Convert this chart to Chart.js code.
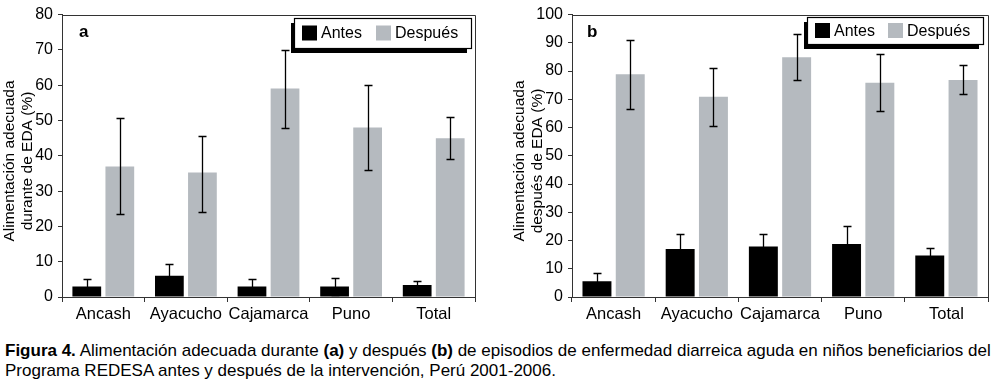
<!DOCTYPE html>
<html>
<head>
<meta charset="utf-8">
<script src="https://cdn.jsdelivr.net/npm/chart.js@4"></script>
<style>
  html, body { margin: 0; padding: 0; background: #fff; }
  body { width: 1000px; height: 381px; position: relative; overflow: hidden; font-family: "Liberation Sans", Arial, sans-serif; }
  #wrapA { position: absolute; left: 0; top: 0; width: 490px; height: 330px; }
  #wrapB { position: absolute; left: 500px; top: 0; width: 500px; height: 330px; }
  #caption { position: absolute; left: 5px; top: 341px; width: 995px; font-size: 17px; line-height: 20px; color: #000; white-space: nowrap; }
</style>
</head>
<body>
<div id="wrapA"><canvas id="chartA" width="490" height="330"></canvas></div>
<div id="wrapB"><canvas id="chartB" width="500" height="330"></canvas></div>
<div id="caption"><b>Figura 4.</b> Alimentación adecuada durante <b>(a)</b> y después <b>(b)</b> de episodios de enfermedad diarreica aguda en niños beneficiarios del<br>Programa REDESA antes y después de la intervención, Perú 2001-2006.</div>
<script>
const categories = ["Ancash", "Ayacucho", "Cajamarca", "Puno", "Total"]

// panel a: durante EDA
const antesA = [3.0, 6.0, 3.0, 3.0, 3.4]
const antesAHi = [5.1, 9.4, 5.1, 5.5, 4.4]
const antesALo = [0.9, 2.6, 0.9, 0.5, 2.4]
const despuesA = [37.0, 35.3, 59.1, 48.0, 45.0]
const despuesAHi = [50.8, 45.7, 70.1, 60.1, 51.1]
const despuesALo = [23.5, 24.2, 47.9, 36.1, 39.0]

// panel b: después de EDA
const antesB = [5.6, 17.0, 17.9, 18.8, 14.7]
const antesBHi = [8.4, 22.3, 22.3, 25.1, 17.2]
const antesBLo = [2.8, 11.7, 13.5, 12.5, 12.2]
const despuesB = [78.9, 70.9, 84.9, 75.9, 76.8]
const despuesBHi = [90.9, 81.2, 93.2, 86.0, 82.2]
const despuesBLo = [66.7, 60.6, 77.0, 65.8, 71.8]

const FONT = "'Liberation Sans', Arial, sans-serif"
const BLACK = "#000000"
const GRAY = "#b5babf"
const AXIS = "#333333"

// error bars, drawn from each dataset's errHi / errLo arrays
const errorBars = {
  id: "errorBars",
  afterDatasetsDraw(chart) {
    const ctx = chart.ctx
    const y = chart.scales.y
    ctx.save()
    ctx.strokeStyle = "#000"
    ctx.lineWidth = 1.3
    chart.data.datasets.forEach((ds, di) => {
      const meta = chart.getDatasetMeta(di)
      meta.data.forEach((bar, i) => {
        const yHi = Math.round(y.getPixelForValue(ds.errHi[i])) + 0.5
        const yLo = Math.round(y.getPixelForValue(ds.errLo[i])) + 0.5
        const x = Math.round(bar.x) + 0.5
        ctx.beginPath()
        ctx.moveTo(x, yHi); ctx.lineTo(x, yLo)
        ctx.moveTo(x - 4, yHi); ctx.lineTo(x + 4, yHi)
        ctx.moveTo(x - 4, yLo); ctx.lineTo(x + 4, yLo)
        ctx.stroke()
      })
    })
    ctx.restore()
  }
}

// top/right frame, y title, panel letter and boxed legend with shadow
const frame = {
  id: "frame",
  afterDraw(chart, args, opts) {
    const ctx = chart.ctx
    const a = chart.chartArea
    ctx.save()
    ctx.strokeStyle = AXIS
    ctx.lineWidth = 1
    ctx.beginPath()
    ctx.moveTo(Math.round(a.left) + 0.5, Math.round(a.top) + 0.5)
    ctx.lineTo(Math.round(a.right) + 0.5, Math.round(a.top) + 0.5)
    ctx.lineTo(Math.round(a.right) + 0.5, Math.round(a.bottom) + 0.5)
    ctx.stroke()

    // two-line rotated y-axis title
    ctx.fillStyle = "#000"
    ctx.font = "15.5px " + FONT
    ctx.textAlign = "center"
    ctx.textBaseline = "middle"
    opts.title.forEach((line, i) => {
      ctx.save()
      ctx.translate(opts.titleX[i], 161)
      ctx.rotate(-Math.PI / 2)
      ctx.fillText(line, 0, 0)
      ctx.restore()
    })

    ctx.font = "bold 17px " + FONT
    ctx.textAlign = "left"
    ctx.fillText(opts.letter, opts.letterX, opts.letterY)

    const lg = opts.legend
    ctx.fillStyle = "#000"
    ctx.fillRect(lg.x - 3, lg.y + 5, lg.w - 1, lg.h)
    ctx.fillStyle = "#fff"
    ctx.fillRect(lg.x, lg.y, lg.w, lg.h)
    ctx.strokeStyle = "#000"
    ctx.lineWidth = 1.2
    ctx.strokeRect(lg.x + 0.5, lg.y + 0.5, lg.w, lg.h)
    ctx.font = "16px " + FONT
    let x = lg.x + 8
    const cy = lg.y + lg.h / 2
    chart.data.datasets.forEach((ds, i) => {
      ctx.fillStyle = ds.backgroundColor
      ctx.fillRect(x, cy - 7.5, 15, 15)
      ctx.fillStyle = "#000"
      ctx.fillText(ds.label, x + 19, cy + 1)
      x += lg.step[i]
    })
    ctx.restore()
  }
}

function makeChart(id, antes, antesHi, antesLo, despues, despuesHi, despuesLo, yMax, yWidth, yTitle, titleX, pad, letter, legend) {
  return new Chart(document.getElementById(id), {
    type: "bar",
    data: {
      labels: categories,
      datasets: [
        { label: "Antes", data: antes, errHi: antesHi, errLo: antesLo, backgroundColor: BLACK,
          barPercentage: 0.87, categoryPercentage: 0.8 },
        { label: "Después", data: despues, errHi: despuesHi, errLo: despuesLo, backgroundColor: GRAY,
          barPercentage: 0.87, categoryPercentage: 0.8 }
      ]
    },
    options: {
      responsive: false,
      animation: false,
      layout: { padding: pad },
      plugins: {
        legend: { display: false },
        tooltip: { enabled: false },
        frame: { title: yTitle, titleX, letter: letter.t, letterX: letter.x, letterY: letter.y, legend }
      },
      scales: {
        x: {
          grid: { display: true, drawOnChartArea: false, offset: true, tickLength: 5, color: AXIS },
          border: { color: AXIS, width: 1 },
          ticks: { color: "#000", font: { family: FONT, size: 16.5 }, padding: 3, maxRotation: 0, autoSkip: false },
          afterFit(scale) { scale.height = 33 }
        },
        y: {
          min: 0, max: yMax,
          grid: { display: true, drawOnChartArea: false, tickLength: 4, color: AXIS },
          border: { color: AXIS, width: 1 },
          ticks: { stepSize: 10, color: "#000", font: { family: FONT, size: 16 }, padding: 5 },
          afterFit(scale) { scale.width = yWidth }
        }
      }
    },
    plugins: [errorBars, frame]
  })
}

makeChart("chartA", antesA, antesAHi, antesALo, despuesA, despuesAHi, despuesALo, 80, 62,
  ["Alimentación adecuada", "durante de EDA (%)"], [9.5, 28],
  { top: 12, right: 15, left: 0, bottom: 0 },
  { t: "a", x: 79, y: 32 },
  { x: 294, y: 18, w: 177, h: 30, step: [74] })

makeChart("chartB", antesB, antesBHi, antesBLo, despuesB, despuesBHi, despuesBLo, 100, 72,
  ["Alimentación adecuada", "después de EDA (%)"], [19.5, 38],
  { top: 12, right: 12, left: 0, bottom: 0 },
  { t: "b", x: 87, y: 32 },
  { x: 307, y: 17, w: 176, h: 27, step: [73] })
</script>
</body>
</html>
